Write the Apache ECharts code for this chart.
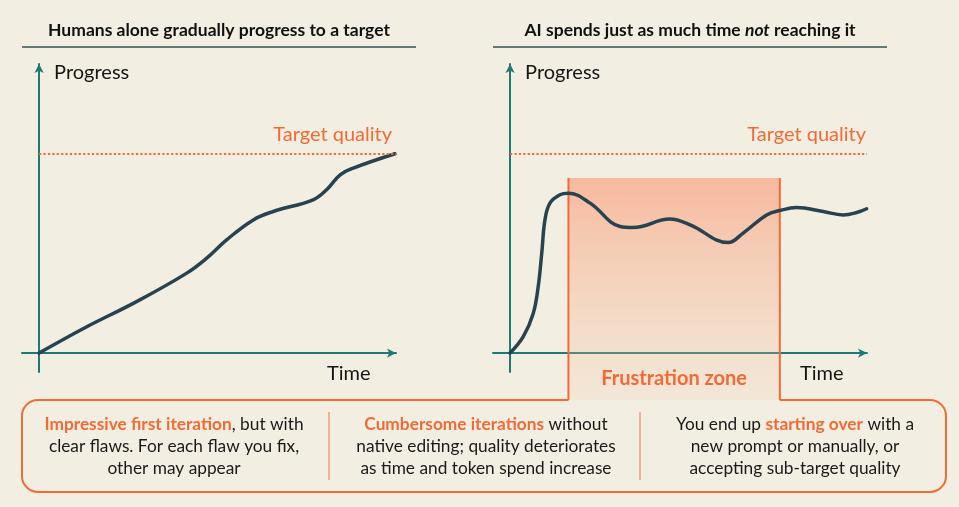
<!DOCTYPE html>
<html><head><meta charset="utf-8">
<script src="https://cdn.jsdelivr.net/npm/echarts@6/dist/echarts.min.js"></script>
<style>html,body{margin:0;padding:0;background:#f2eee1;}#c{width:959px;height:507px;}</style>
</head><body><div id="c"></div>
<script>
// ---- data ----
const humanX = [0, 13.4, 27.4, 41.5, 47.1, 52.7, 60.2, 65.8, 77.0, 80.8, 84.6, 88.3, 100];
const humanY = [0, 13.2, 25.8, 40.1, 47.6, 56.8, 66.8, 71.0, 76.9, 81.9, 89.4, 92.8, 100];
const aiX = [0, 3.7, 6.5, 7.9, 8.9, 9.8, 11.2, 14.0, 16.4, 22.5, 30.9, 34.6, 44.9, 50.6, 61.3, 65.5, 72.1, 75.8, 80.5, 88.0, 93.6, 97.4, 100.2];
const aiY = [0, 8.2, 19.9, 33.3, 50.1, 66.8, 75.2, 79.4, 80.2, 75.2, 63.5, 63.0, 67.2, 64.3, 55.4, 60.2, 69.3, 71.5, 73.0, 71.0, 69.3, 70.5, 72.4];
const targetQuality = 100;
const frustrationZone = [16.4, 75.8, 87.8, -23.5]; // xStart, xEnd, yTop, yBottom
const titles = ['Humans alone gradually progress to a target', 'AI spends just as much time {i|not} reaching it'];
const axisNames = ['Progress', 'Time'];
const targetLabel = 'Target quality';
const zoneLabel = 'Frustration zone';
const notes = [
  '{o|Impressive first iteration}, but with\nclear flaws. For each flaw you fix,\nother may appear',
  '{o|Cumbersome iterations} without\nnative editing; quality deteriorates\nas time and token spend increase',
  'You end up {o|starting over} with a\nnew prompt or manually, or\naccepting sub-target quality'
];

const ORANGE = '#f26b36', TEAL = '#1f7a74', CURVE = '#28434f', BG = '#f2eee1', FONT = 'Lato';
const pairs = (xs, ys) => xs.map((x, i) => [x, ys[i]]);

const chart = echarts.init(document.getElementById('c'), null, {renderer: 'canvas'});

function xAxisCfg(i, gap) {
  return {
    type: 'value', gridIndex: i, min: -4.8, max: 100.3,
    axisLine: {onZero: true, lineStyle: {color: TEAL, width: 2}, symbol: ['none', 'arrow'], symbolSize: [7, 9]},
    axisTick: {show: false}, axisLabel: {show: false}, splitLine: {show: false},
    name: axisNames[1], nameLocation: 'end', nameGap: gap,
    nameTextStyle: {fontFamily: FONT, fontSize: 20, color: '#151515', align: 'left', verticalAlign: 'top', padding: [10, 0, 0, 0]}
  };
}
function yAxisCfg(i) {
  return {
    type: 'value', gridIndex: i, min: -9.5, max: 145,
    axisLine: {onZero: true, lineStyle: {color: TEAL, width: 2}, symbol: ['none', 'arrow'], symbolSize: [7, 9]},
    axisTick: {show: false}, axisLabel: {show: false}, splitLine: {show: false},
    name: axisNames[0], nameLocation: 'end', nameGap: -9,
    nameTextStyle: {fontFamily: FONT, fontSize: 20, color: '#151515', align: 'left', verticalAlign: 'middle', padding: [0, 0, 0, 15]}
  };
}
function targetLine(xEnd, labelDist) {
  return {
    silent: true, symbol: 'none',
    lineStyle: {color: ORANGE, type: 'dotted', width: 2.2},
    label: {show: true, position: 'insideEndTop', formatter: targetLabel, color: ORANGE, fontFamily: FONT, fontSize: 20, distance: labelDist},
    data: [[{coord: [0, targetQuality]}, {coord: [xEnd, targetQuality]}]]
  };
}

chart.setOption({
  backgroundColor: BG,
  animation: false,
  grid: [
    {left: 22, top: 64, width: 374, height: 308},
    {left: 493, top: 64, width: 374, height: 308}
  ],
  xAxis: [xAxisCfg(0, -69), xAxisCfg(1, -67)],
  yAxis: [yAxisCfg(0), yAxisCfg(1)],
  series: [
    {
      type: 'custom', xAxisIndex: 1, yAxisIndex: 1, z: 1, silent: true, clip: false,
      data: [frustrationZone],
      renderItem: function (params, api) {
        const p1 = api.coord([api.value(0), api.value(2)]);
        const p2 = api.coord([api.value(1), api.value(3)]);
        return {type: 'group', children: [
          {type: 'rect', shape: {x: p1[0], y: p1[1], width: p2[0] - p1[0], height: p2[1] - p1[1]},
           style: {fill: new echarts.graphic.LinearGradient(0, 0, 0, 1, [
             {offset: 0, color: 'rgba(251,150,112,0.6)'},
             {offset: 1, color: 'rgba(246,190,160,0.15)'}
           ])}},
          {type: 'line', shape: {x1: p1[0], y1: p1[1], x2: p1[0], y2: p2[1]}, style: {stroke: ORANGE, lineWidth: 2}},
          {type: 'line', shape: {x1: p2[0], y1: p1[1], x2: p2[0], y2: p2[1]}, style: {stroke: ORANGE, lineWidth: 2}}
        ]};
      }
    },
    {
      type: 'line', xAxisIndex: 0, yAxisIndex: 0, z: 3, data: pairs(humanX, humanY),
      smooth: 0.4, showSymbol: false, lineStyle: {color: CURVE, width: 3.5, cap: 'round'},
      markLine: targetLine(100.3, [4, 9])
    },
    {
      type: 'line', xAxisIndex: 1, yAxisIndex: 1, z: 3, data: pairs(aiX, aiY),
      smooth: 0.4, showSymbol: false, lineStyle: {color: CURVE, width: 3.5, cap: 'round'},
      markLine: targetLine(100.3, [1, 9])
    }
  ]
});

// ---- annotations ----
const zl = chart.convertToPixel({xAxisIndex: 1}, frustrationZone[0]);
const zr = chart.convertToPixel({xAxisIndex: 1}, frustrationZone[1]);
const zb = chart.convertToPixel({yAxisIndex: 1}, frustrationZone[3]);
const bx0 = 22, bx1 = 946, by0 = zb, by1 = 492, r = 16;
const boxStyle = {stroke: ORANGE, lineWidth: 2, fill: null};
const g = [];
const line = (x1, y1, x2, y2, style) => g.push({type: 'line', shape: {x1, y1, x2, y2}, style});
const arc = (cx, cy, s, e) => g.push({type: 'arc', shape: {cx, cy, r, startAngle: s, endAngle: e, clockwise: true}, style: boxStyle});
line(bx0 + r, by0, zl, by0, boxStyle);
line(zr, by0, bx1 - r, by0, boxStyle);
line(bx0 + r, by1, bx1 - r, by1, boxStyle);
line(bx0, by0 + r, bx0, by1 - r, boxStyle);
line(bx1, by0 + r, bx1, by1 - r, boxStyle);
arc(bx0 + r, by0 + r, Math.PI, Math.PI * 1.5);
arc(bx1 - r, by0 + r, Math.PI * 1.5, Math.PI * 2);
arc(bx1 - r, by1 - r, 0, Math.PI * 0.5);
arc(bx0 + r, by1 - r, Math.PI * 0.5, Math.PI);
// dividers
line(329, 412, 329, 480, {stroke: '#f29c78', lineWidth: 1.5});
line(640, 412, 640, 480, {stroke: '#f29c78', lineWidth: 1.5});
// title underlines
line(22, 47, 416, 47, {stroke: '#355252', lineWidth: 1.5});
line(493, 47, 887, 47, {stroke: '#355252', lineWidth: 1.5});
// titles
[219, 690].forEach((cx, i) => g.push({type: 'text', x: cx, y: 30, z: 10, style: {
  text: titles[i], fontFamily: FONT, fontSize: 17.5, fontWeight: 'bold', fill: '#111', align: 'center', verticalAlign: 'middle',
  rich: {i: {fontFamily: FONT, fontSize: 17.5, fontWeight: 'bold', fontStyle: 'italic', fill: '#111'}}
}}));
// frustration zone label
g.push({type: 'text', x: (zl + zr) / 2, y: 379, z: 10, style: {
  text: zoneLabel, fontFamily: FONT, fontSize: 20, fontWeight: 'bold', fill: ORANGE, align: 'center', verticalAlign: 'middle'
}});
// notes
[174, 486, 795].forEach((cx, i) => g.push({type: 'text', x: cx, y: 446, z: 10, style: {
  text: notes[i], fontFamily: FONT, fontSize: 17.3, fill: '#1a1a1a', align: 'center', verticalAlign: 'middle', lineHeight: 22,
  rich: {o: {fontFamily: FONT, fontSize: 17.3, fontWeight: 'bold', fill: ORANGE, lineHeight: 22}}
}}));
chart.setOption({graphic: {elements: g}});
</script>
</body></html>
